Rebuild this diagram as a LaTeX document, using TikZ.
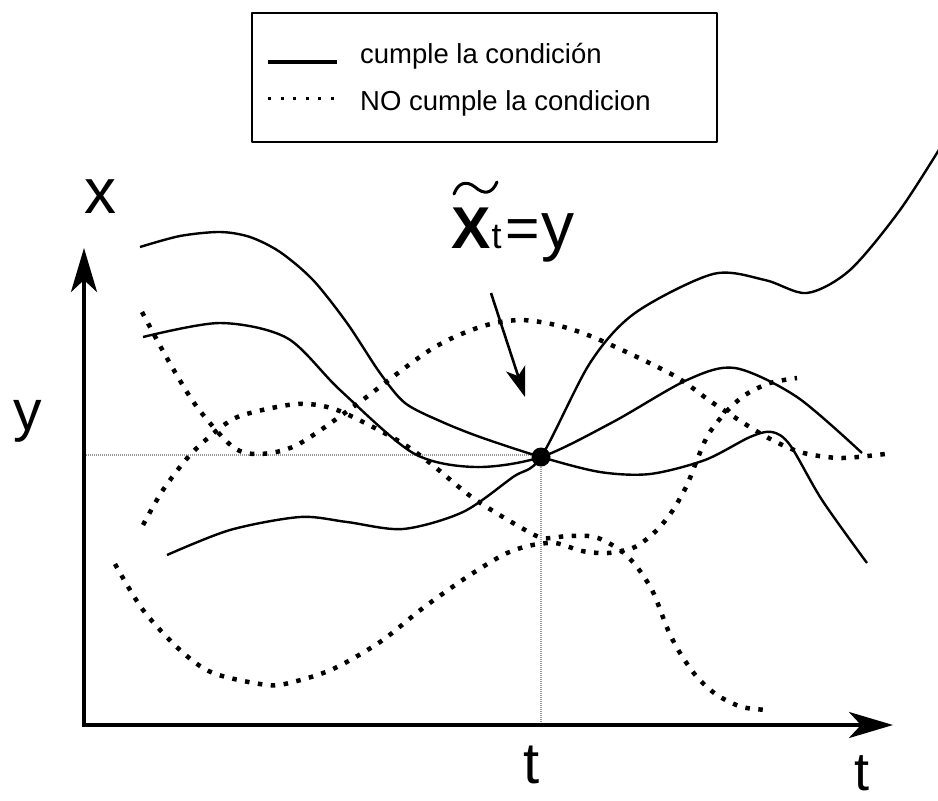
\documentclass[tikz,border=0pt]{standalone}
\usepackage{fontspec}
\setmainfont{Liberation Sans}
\usetikzlibrary{arrows.meta}
\tikzset{
	cumple/.style={line width=2.4pt, smooth},
	nocumple/.style={line width=4.5pt, line cap=butt, smooth, dash pattern=on 4.5pt off 8.5pt},
	guia/.style={gray!80, line width=1.2pt, dash pattern=on 1pt off 1pt},
	punta/.tip={Stealth[length=44pt,width=26pt,inset=12pt]},
	etiq/.style={inner sep=0pt, anchor=base}
}
\begin{document}
\begin{tikzpicture}[x=1pt,y=-1pt,line join=round]
	\useasboundingbox (0,0) rectangle (938,801);
	% leyenda
	\draw[line width=2.2pt] (252,13) rectangle (717,142);
	\draw[line width=3.3pt] (268,62)--(337,62);
	\draw[line width=3pt, dash pattern=on 3pt off 9.5pt] (268,98)--(340,98);
	\node[etiq, anchor=base west, font=\fontsize{27.5}{30}\selectfont] (leg1) at (360,63) {cumple la condición};
	\node[etiq, anchor=base west, font=\fontsize{27.5}{30}\selectfont] (leg2) at (360,110) {NO cumple la condicion};
	% ejes
	\coordinate (O) at (84,725);
	\coordinate (xtop) at (84,248);
	\coordinate (tfin) at (893,725);
	\draw[guia] (84,455)--(541,455);
	\draw[guia] (541,457)--(541,725);
	\draw[line width=4pt, line join=miter, punta-punta] (xtop)--(O)--(tfin);
	\node[etiq, font=\fontsize{64}{66}\selectfont] (lx) at (100,213) {x};
	\node[etiq, font=\fontsize{57}{60}\selectfont] (ly) at (28,430) {y};
	\node[etiq, font=\fontsize{58}{60}\selectfont] (lt) at (532,783) {t};
	\node[etiq, font=\fontsize{54}{60}\selectfont] (lt2) at (862,790) {t};
	% trayectorias que cumplen
	\draw[cumple] plot coordinates {(140,247) (180,236) (220,232) (250,237) (280,252) (313,280) (347,323) (380,373) (405,403) (440,421) (480,437) (541,457) (600,472) (650,474) (705,460) (750,437) (772,432) (790,445) (822,500) (867,563)};
	\draw[cumple] plot coordinates {(143,337) (220,323) (287,338) (340,390) (413,453) (475,467) (541,457) (613,422) (687,380) (735,368) (797,397) (862,453)};
	\draw[cumple] plot coordinates {(167,555) (230,530) (300,517) (347,522) (403,529) (463,512) (513,477) (541,457) (590,363) (635,313) (713,274) (765,280) (807,293) (850,270) (900,210) (945,140)};
	% trayectorias que no cumplen
	\draw[nocumple] plot coordinates {(142,312) (168,360) (197,407) (233,447) (260,454) (297,445) (353,407) (430,350) (480,327) (520,320) (560,326) (600,340) (673,375) (713,403) (763,435) (800,452) (840,458) (885,454)};
	\draw[nocumple] plot coordinates {(143,525) (163,490) (190,455) (220,428) (243,415) (297,404) (337,410) (397,440) (430,463) (473,498) (520,527) (543,538) (568,536) (595,537) (620,550) (637,567) (653,592) (668,630) (680,653) (697,677) (717,695) (742,707) (768,710)};
	\draw[nocumple] plot coordinates {(115,564) (143,610) (180,650) (213,673) (267,685) (293,682) (333,669) (380,642) (423,608) (467,577) (503,555) (528,546) (555,543) (582,551) (608,553) (635,547) (657,530) (673,510) (687,485) (697,460) (708,435) (725,413) (745,395) (770,383) (797,378)};
	% punto y etiqueta
	\node[circle, fill, inner sep=0pt, minimum size=19pt] (P) at (541,457) {};
	\node[etiq, anchor=base west] (lbl) at (451,248) {\fontsize{59}{60}\selectfont\bfseries X\kern1pt{\mdseries\fontsize{36}{36}\selectfont t}\kern4pt{\mdseries=\kern1pt{\fontsize{66}{66}\selectfont y}}};
	\draw[line width=3pt, line cap=round] (454,194) .. controls (458,183) and (466,180) .. (475,187) .. controls (484,195) and (492,194) .. (497,182);
	\coordinate (flA) at (491,293);
	\coordinate (flB) at (525,397);
	\draw[line width=2.6pt, -{Stealth[length=30pt,width=20pt,inset=8pt]}] (flA)--(flB);
\end{tikzpicture}
\end{document}
